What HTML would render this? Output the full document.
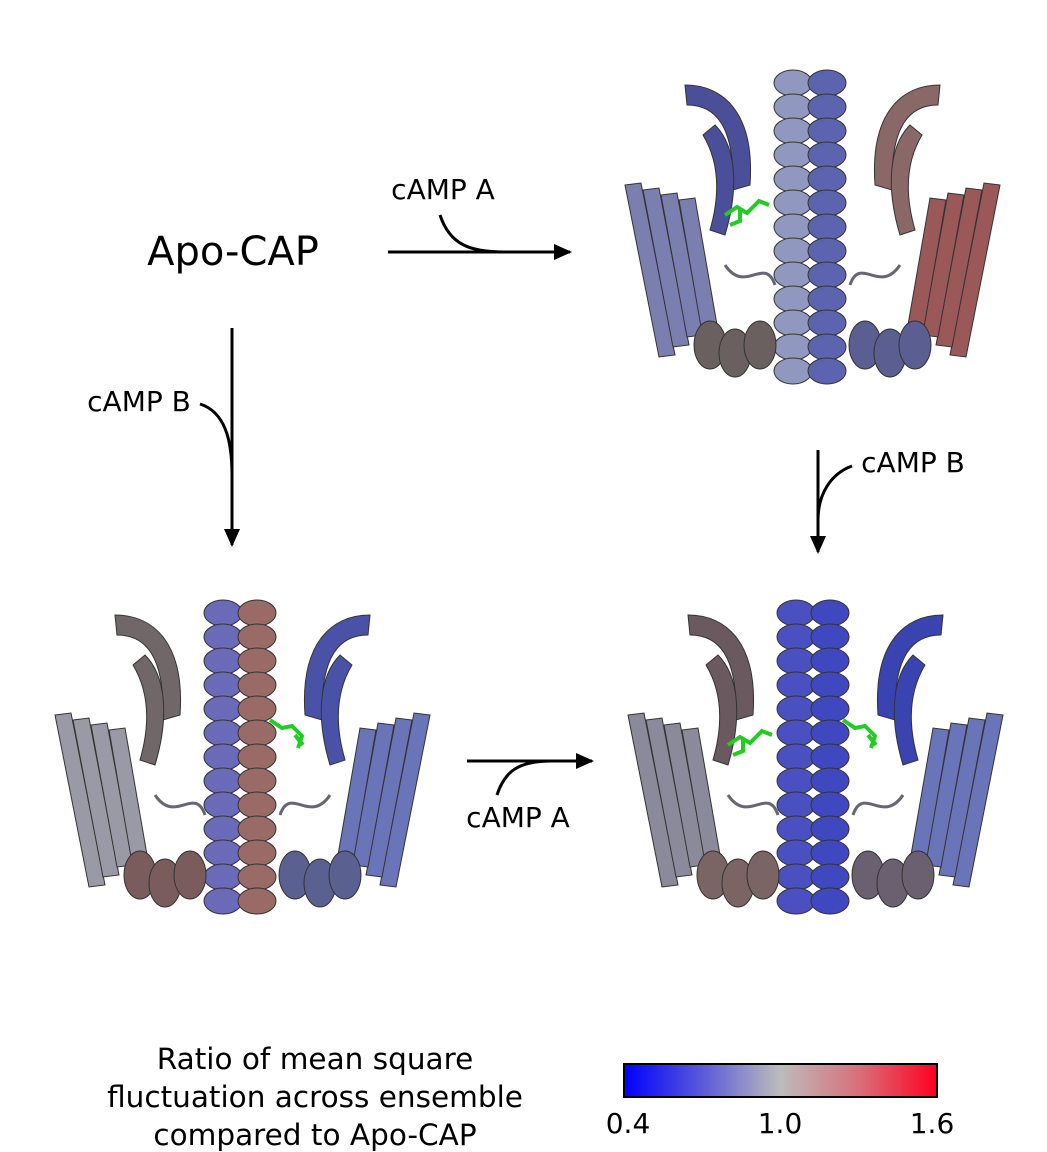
<!DOCTYPE html>
<html><head><meta charset="utf-8"><style>
html,body{margin:0;padding:0;background:#fff;}
svg{display:block;font-family:"DejaVu Sans","Liberation Sans",sans-serif;}
</style></head><body>
<svg id="fig" width="1047" height="1152" viewBox="0 0 1047 1152">
<defs>
<linearGradient id="cb" x1="0" x2="1" y1="0" y2="0">
<stop offset="0" stop-color="#0000ff"/><stop offset="0.25" stop-color="#5a5ad8"/>
<stop offset="0.5" stop-color="#bcbcbc"/><stop offset="0.75" stop-color="#d8707a"/>
<stop offset="1" stop-color="#ff0020"/></linearGradient>
<marker id="ah" markerWidth="18" markerHeight="16" refX="16" refY="8" orient="auto" markerUnits="userSpaceOnUse"><path d="M0,0 L18,8 L0,16 z" fill="#000"/></marker>
</defs>
<text x="233" y="265" font-size="40" text-anchor="middle">Apo-CAP</text>
<g stroke="#000" stroke-width="3" fill="none">
<line x1="388" y1="252" x2="570" y2="252" marker-end="url(#ah)"/>
<path d="M440,215 C450,245 470,252 505,252"/>
</g>
<text x="443" y="199" font-size="28" text-anchor="middle">cAMP A</text>
<g stroke="#000" stroke-width="3" fill="none">
<line x1="232" y1="328" x2="232" y2="545" marker-end="url(#ah)"/>
<path d="M200,404 C225,412 232,440 232,475"/>
</g>
<text x="139" y="411" font-size="28" text-anchor="middle">cAMP B</text>
<g stroke="#000" stroke-width="3" fill="none">
<line x1="818" y1="450" x2="818" y2="552" marker-end="url(#ah)"/>
<path d="M852,466 C830,474 818,495 818,520"/>
</g>
<text x="913" y="472" font-size="28" text-anchor="middle">cAMP B</text>
<g stroke="#000" stroke-width="3" fill="none">
<line x1="467" y1="761" x2="592" y2="761" marker-end="url(#ah)"/>
<path d="M497,795 C505,770 520,761 552,761"/>
</g>
<text x="518" y="827" font-size="28" text-anchor="middle">cAMP A</text>
<g id="proteins"></g>
<g font-size="29.5" text-anchor="middle">
<text x="315" y="1069">Ratio of mean square</text>
<text x="315" y="1107">fluctuation across ensemble</text>
<text x="315" y="1145">compared to Apo-CAP</text>
</g>
<rect x="624" y="1064" width="313" height="33" fill="url(#cb)" stroke="#000" stroke-width="2"/>
<g id="cbticks" font-size="28" text-anchor="middle"></g>
</svg>
<script>
const tickLabels=["0.4","1.0","1.6"];
const tickValues=[0.4,1.0,1.6];
const NS="http://www.w3.org/2000/svg";
const cbx=v=>628+(v-0.4)/1.2*304;
const tg=document.getElementById('cbticks');
tickValues.forEach((v,i)=>{const t=document.createElementNS(NS,'text');
t.setAttribute('x',cbx(v));t.setAttribute('y',1133);t.textContent=tickLabels[i];


tg.appendChild(t);});
const proteins=[
 [615,65,"#7a7fb0","#4b4f9a","#9098c0","#5c64b0","#8a6868","#9a5858","#6a6060","#5a5e90",true,false],
 [45,595,"#9a9aa6","#706868","#6a6ab8","#9a6a66","#4a52a8","#6a74b8","#7a5c5c","#5a6090",false,true],
 [618,595,"#8a8a9a","#6a5a60","#4a50c0","#4048c0","#3a44b0","#6a74b8","#7a6464","#6a6070",true,true]
];
const pg=document.getElementById('proteins');
function el(tag,attrs,parent){const e=document.createElementNS(NS,tag);for(const k in attrs)e.setAttribute(k,attrs[k]);parent.appendChild(e);return e;}
proteins.forEach((p,idx)=>{
 const g=el('g',{transform:`translate(${p[0]},${p[1]})`},pg);
 
 
 const st={stroke:"#333","stroke-width":1};
 for(let i=0;i<4;i++) el('path',Object.assign({d:`M${10+i*18},${120+i*5} L${26+i*18},${118+i*5} L${60+i*14},${290-i*10} L${44+i*14},${292-i*10} z`,fill:p[2]},st),g);
 for(let i=0;i<4;i++) el('path',Object.assign({d:`M${385-i*18},${120+i*5} L${369-i*18},${118+i*5} L${335-i*14},${290-i*10} L${351-i*14},${292-i*10} z`,fill:p[7]},st),g);
 el('path',Object.assign({d:"M70,20 C110,20 140,50 135,120 L118,125 C120,60 100,40 72,40 z",fill:p[3]},st),g);
 el('path',Object.assign({d:"M100,60 C120,80 125,120 110,170 L95,165 C108,120 100,90 88,70 z",fill:p[3]},st),g);
 el('path',Object.assign({d:"M325,20 C285,20 255,50 260,120 L277,125 C275,60 295,40 323,40 z",fill:p[6]},st),g);
 el('path',Object.assign({d:"M295,60 C275,80 270,120 285,170 L300,165 C287,120 295,90 307,70 z",fill:p[6]},st),g);
 for(let k=0;k<2;k++){const cx=k?212:178,col=k?p[5]:p[4];
  for(let j=0;j<13;j++) el('ellipse',Object.assign({cx:cx,cy:18+j*24,rx:19,ry:13,fill:col},st),g);}
 [[120,280,p[8]],[275,280,p[9]]].forEach(b=>{for(let j=0;j<3;j++) el('ellipse',Object.assign({cx:b[0]-25+j*25,cy:b[1]+(j%2)*8,rx:16,ry:24,fill:b[2]},st),g);});
 el('path',{d:"M110,200 C130,230 150,190 160,220",fill:"none",stroke:"#667",'stroke-width':3},g);
 el('path',{d:"M285,200 C265,230 245,190 235,220",fill:"none",stroke:"#667",'stroke-width':3},g);
 if(p[10]) el('path',{d:"M110,150 l12,-8 l10,6 l12,-12 l10,4 M115,160 l10,-4 l0,-12",fill:"none",stroke:"#22cc22",'stroke-width':4},g);
 if(p[11]) el('path',{d:"M225,125 l12,8 l10,-2 l10,10 l-4,12 M250,140 l8,10",fill:"none",stroke:"#22cc22",'stroke-width':4},g);
});
</script>
</body></html>
